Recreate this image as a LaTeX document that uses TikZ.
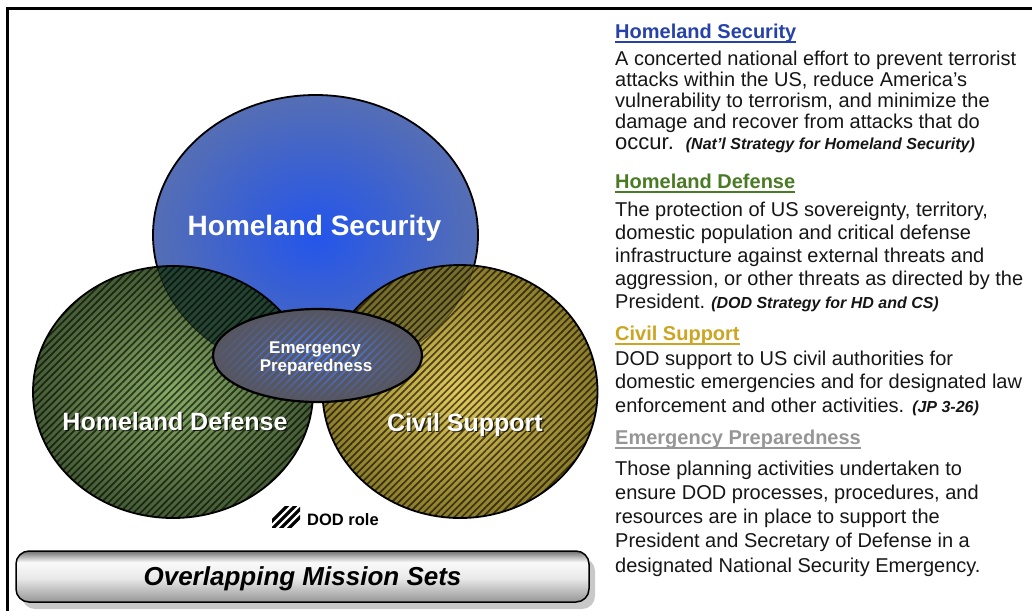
\documentclass[tikz,border=0pt]{standalone}
\usepackage{fontspec}
\setmainfont{Liberation Sans}
\usetikzlibrary{patterns.meta,shadows}

% colours of the sets
\definecolor{blueIn}{RGB}{35,85,235}
\definecolor{blueOut}{RGB}{85,110,180}
\definecolor{greenIn}{RGB}{135,172,100}
\definecolor{greenOut}{RGB}{68,92,52}
\definecolor{goldIn}{RGB}{228,203,92}
\definecolor{goldOut}{RGB}{140,124,42}
\definecolor{tealOver}{RGB}{30,62,48}
\definecolor{oliveOver}{RGB}{112,104,44}
\definecolor{epGrey}{RGB}{86,86,96}
\definecolor{epBlue}{RGB}{70,125,255}
% colours of the headings and text
\definecolor{hsHead}{RGB}{38,66,168}
\definecolor{hdHead}{RGB}{74,122,36}
\definecolor{csHead}{RGB}{205,165,35}
\definecolor{epHead}{RGB}{150,150,150}
\definecolor{txtBlack}{RGB}{22,22,22}
% title bar shading
\definecolor{barLo}{RGB}{150,150,150}
\definecolor{barMid}{RGB}{232,232,232}
\definecolor{barHi}{RGB}{250,250,250}
\definecolor{barTop}{RGB}{112,112,112}
\pgfdeclareverticalshading{barshade}{100bp}{color(0bp)=(barLo); color(25bp)=(barLo); color(48bp)=(barMid); color(64bp)=(barHi); color(75bp)=(barTop); color(100bp)=(barTop)}

\newsavebox\ulbox
\newcommand\ulined[2]{\sbox\ulbox{\color{#1}#2}\rlap{\color{#1}\rule[-4.6pt]{\wd\ulbox}{2pt}}\usebox\ulbox}
\newcommand\citef{\fontsize{16}{18}\selectfont\bfseries\itshape}

\begin{document}
\begin{tikzpicture}[x=1pt,y=-1pt,
  blueE/.style={insert path={(315.5,235) ellipse [x radius=162.5, y radius=140]}},
  greenE/.style={insert path={(173,392) ellipse [x radius=140, y radius=126]}},
  goldE/.style={insert path={(460,391.5) ellipse [x radius=137.5, y radius=126.5]}},
  epE/.style={insert path={(317.5,355.5) ellipse [x radius=104.5, y radius=46.5]}},
  outline/.style={draw=black,line width=1.8pt},
  hatch/.style={pattern={Lines[angle=45,distance=5pt,line width=1.7pt]},pattern color=black,opacity=.62},
  bigtxt/.style={text=white,font=\fontsize{25}{28}\selectfont\bfseries,inner sep=0pt,anchor=base},
  shadowtxt/.style={text=black,opacity=.75,font=\fontsize{25}{28}\selectfont\bfseries,inner sep=0pt,anchor=base},
  eptxt/.style={text=white,font=\fontsize{17}{18}\selectfont\bfseries,inner sep=0pt,anchor=base},
  body/.style={anchor=base west,inner sep=0pt,font=\fontsize{20}{22}\selectfont,text=txtBlack},
  head/.style={anchor=base west,inner sep=0pt,font=\fontsize{20}{22}\selectfont\bfseries},
  bar/.style={draw=black,line width=1.5pt,rounded corners=13pt,shade,shading=barshade,
    minimum width=573pt,minimum height=51pt,inner sep=0pt,text depth=0pt,
    font=\fontsize{26}{28}\selectfont\bfseries\itshape,
    drop shadow={shadow xshift=6pt,shadow yshift=-7pt,fill=gray!60,opacity=.7}}]

\useasboundingbox (0,0) rectangle (1032,611);
\fill[white] (0,0) rectangle (1032,611);
% frame
\draw[line width=3pt] (7.5,611) -- (7.5,8.5) -- (1032,8.5);

% Homeland Security set
\path[blueE, shade, inner color=blueIn, outer color=blueOut];
\draw[blueE, outline];

% Homeland Defense set
\path[greenE, shade, inner color=greenIn, outer color=greenOut];
\begin{scope}
  \clip[greenE];
  \fill[blueE, tealOver, opacity=.88];
  \draw[blueE, black, line width=.8pt, opacity=.55];
\end{scope}
\fill[greenE, hatch];
\draw[greenE, outline];

% Civil Support set
\path[goldE, shade, inner color=goldIn, outer color=goldOut];
\begin{scope}
  \clip[goldE];
  \fill[blueE, oliveOver, opacity=.8];
  \draw[blueE, black, line width=.8pt, opacity=.4];
\end{scope}
\fill[goldE, hatch];
\draw[goldE, outline];

% Emergency Preparedness
\path[epE, shade, inner color=epBlue, outer color=epGrey];
\fill[epE, pattern={Lines[angle=45,distance=5.5pt,line width=3.3pt]}, pattern color=epGrey];
\draw[epE, line width=2.2pt];

% set labels
\node[bigtxt, font=\fontsize{28}{30}\selectfont\bfseries] (hsLabel) at (314.5,235) {Homeland Security};
\node[shadowtxt] (hdShadow) at (176.3,431.3) {Homeland Defense};
\node[bigtxt] (hdLabel) at (175,430) {Homeland Defense};
\node[shadowtxt] (csShadow) at (466.3,432.3) {Civil Support};
\node[bigtxt] (csLabel) at (465,431) {Civil Support};
\node[eptxt] (epLine1) at (315,353) {Emergency};
\node[eptxt] (epLine2) at (316,371) {Preparedness};

% legend
\begin{scope}
  \clip (272,506) rectangle (300,527);
  \foreach \k in {0,...,3}
    \draw[line width=3.2pt] (262+8*\k,531) -- (288+8*\k,505);
\end{scope}
\node[anchor=base west, inner sep=0pt, font=\fontsize{16.5}{18}\selectfont\bfseries] (dodRole) at (307,525) {DOD role};

% title bar
\node[bar] (title) at (302.5,576.5) {Overlapping Mission Sets};

% definitions
\node[head] (hsHeadN) at (615,38) {\ulined{hsHead}{Homeland Security}};
\node[body] (hs1) at (615,65) {A concerted national effort to prevent terrorist};
\node[body] (hs2) at (615,86) {attacks within the US, reduce America’s};
\node[body] (hs3) at (615,107) {vulnerability to terrorism, and minimize the};
\node[body] (hs4) at (615,128) {damage and recover from attacks that do};
\node[body] (hs5) at (615,149) {{\fontsize{22}{22}\selectfont occur.}\hspace{12pt}{\citef (Nat’l Strategy for Homeland Security)}};

\node[head] (hdHeadN) at (615,188) {\ulined{hdHead}{Homeland Defense}};
\node[body] (hd1) at (615,216) {The protection of US sovereignty, territory,};
\node[body] (hd2) at (615,239) {domestic population and critical defense};
\node[body] (hd3) at (615,262) {infrastructure against external threats and};
\node[body] (hd4) at (615,285) {aggression, or other threats as directed by the};
\node[body] (hd5) at (615,308) {President.\hspace{6pt}{\citef (DOD Strategy for HD and CS)}};

\node[head] (csHeadN) at (615,340) {\ulined{csHead}{Civil Support}};
\node[body] (cs1) at (615,365) {DOD support to US civil authorities for};
\node[body] (cs2) at (615,388) {domestic emergencies and for designated law};
\node[body] (cs3) at (615,412) {enforcement and other activities.\hspace{8pt}{\citef (JP 3-26)}};

\node[head] (epHeadN) at (615,444) {\ulined{epHead}{Emergency Preparedness}};
\node[body] (ep1) at (615,475) {Those planning activities undertaken to};
\node[body] (ep2) at (615,499) {ensure DOD processes, procedures, and};
\node[body] (ep3) at (615,523) {resources are in place to support the};
\node[body] (ep4) at (615,547) {President and Secretary of Defense in a};
\node[body] (ep5) at (615,572) {designated National Security Emergency.};
\end{tikzpicture}
\end{document}
